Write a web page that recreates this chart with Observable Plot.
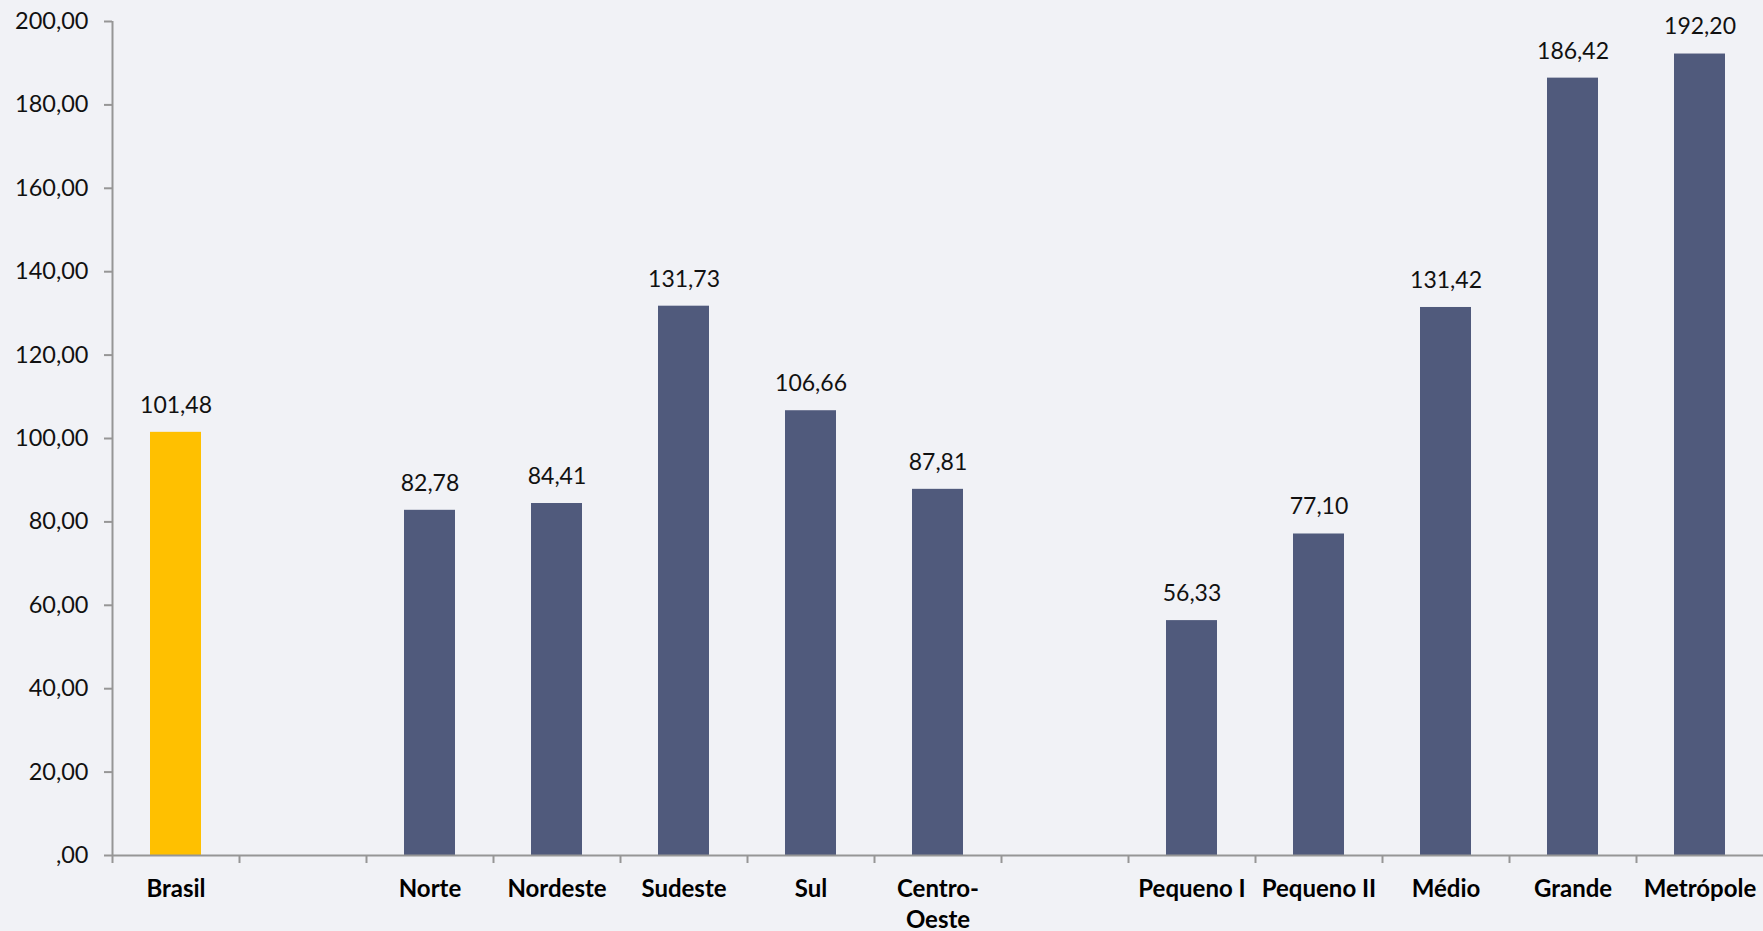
<!DOCTYPE html>
<html>
<head>
<meta charset="utf-8">
<script src="https://cdn.jsdelivr.net/npm/d3@7"></script>
<script src="https://cdn.jsdelivr.net/npm/@observablehq/plot@0.6"></script>
<style>
  html, body { margin: 0; padding: 0; background: #F1F2F6; overflow: hidden; }
  #chart { width: 1763px; height: 931px; }
</style>
</head>
<body>
<div id="chart"></div>
<script>
// Categories (gap slots keep Excel's empty spacing categories)
const categories = ["Brasil", "gap1", "Norte", "Nordeste", "Sudeste", "Sul", "Centro-Oeste", "gap2", "Pequeno I", "Pequeno II", "Médio", "Grande", "Metrópole"];
const categoryLabels = ["Brasil", "", "Norte", "Nordeste", "Sudeste", "Sul", "Centro-\nOeste", "", "Pequeno I", "Pequeno II", "Médio", "Grande", "Metrópole"];
const values = [101.48, null, 82.78, 84.41, 131.73, 106.66, 87.81, null, 56.33, 77.10, 131.42, 186.42, 192.20];
const groups = ["Brasil", null, "Região", "Região", "Região", "Região", "Região", null, "Porte", "Porte", "Porte", "Porte", "Porte"];
const yTicks = [0, 20, 40, 60, 80, 100, 120, 140, 160, 180, 200];

const W = 1763, H = 931;
const mLeft = 112, mRight = 0, mTop = 21, mBottom = 76;
const bw = (W - mLeft - mRight) / categories.length;

const fmt = v => v === 0 ? ",00" : v.toFixed(2).replace(".", ",");

const rows = categories.map((c, i) => ({cat: c, label: categoryLabels[i], value: values[i], group: groups[i]}));
const bars = rows.filter(d => d.value != null);

const axisColor = "#969696";
const font = "Lato, 'Open Sans', sans-serif";

const chart = Plot.plot({
  width: W,
  height: H,
  marginLeft: mLeft,
  marginRight: mRight,
  marginTop: mTop,
  marginBottom: mBottom,
  style: {background: "transparent", fontFamily: font, color: "#111", overflow: "visible"},
  x: {type: "band", domain: categories, padding: 0, axis: null},
  y: {domain: [0, 200], axis: null},
  color: {domain: ["Brasil", "Região", "Porte"], range: ["#FFC000", "#505A7C", "#505A7C"]},
  marks: [
    Plot.barY(bars, {x: "cat", y: "value", fill: "group", insetLeft: 38, insetRight: 38}),
    Plot.text(bars, {x: "cat", y: "value", text: d => fmt(d.value), dy: -27, fontSize: 23, fill: "#111"}),
    Plot.axisY({ticks: yTicks, tickSize: 8, tickPadding: 16, tickFormat: fmt, fontSize: 23.5, stroke: axisColor, strokeWidth: 2, fill: "#111", label: null}),
    Plot.ruleX([categories[0]], {x: d => d, dx: -bw / 2, y1: 0, y2: 200, stroke: axisColor, strokeWidth: 2}),
    Plot.ruleY([0], {stroke: axisColor, strokeWidth: 2}),
    Plot.ruleX(categories, {x: d => d, dx: -bw / 2, y1: 0, y2: 0, insetBottom: -8, stroke: axisColor, strokeWidth: 2}),
    Plot.text(rows, {x: "cat", y: 0, text: "label", dy: 19, lineAnchor: "top", lineHeight: 1.3, fontSize: 24, fontWeight: "bold", fill: "#000"})
  ]
});
document.getElementById("chart").appendChild(chart);
</script>
</body>
</html>
